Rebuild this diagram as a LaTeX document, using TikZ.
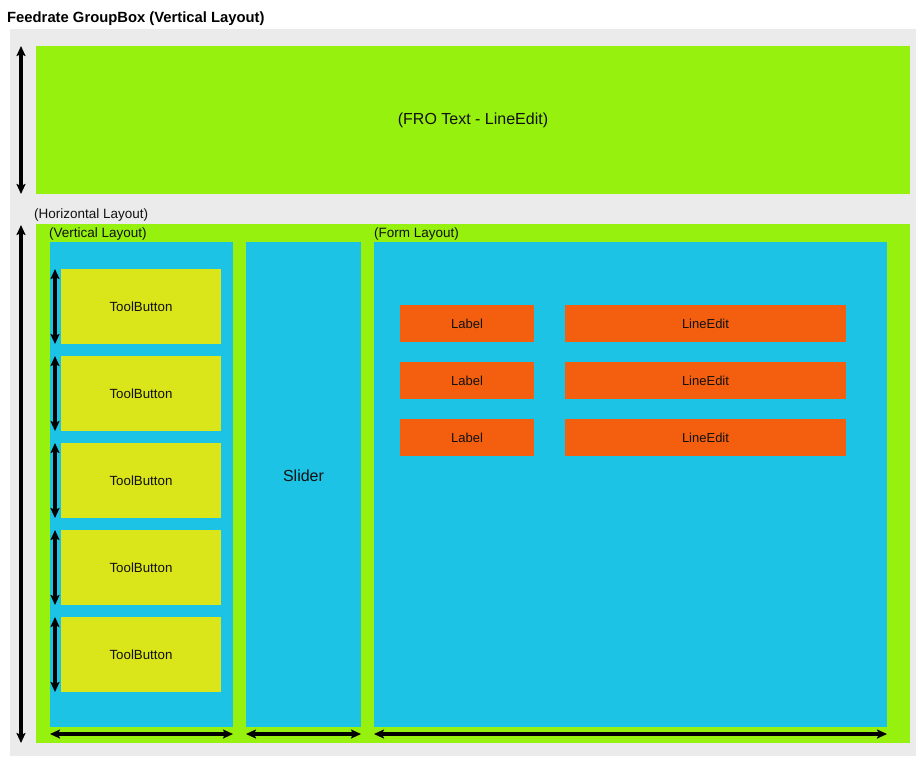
\documentclass[tikz,border=0pt]{standalone}
\usepackage{fontspec}
\setmainfont{Liberation Sans}
\usetikzlibrary{arrows.meta}
\definecolor{bggray}{HTML}{EBEBEB}
\definecolor{lgreen}{HTML}{96F10F}
\definecolor{lblue}{HTML}{1CC3E5}
\definecolor{lyellow}{HTML}{DBE61A}
\definecolor{lorange}{HTML}{F35F0F}
\definecolor{txt}{HTML}{111111}
\tikzset{
  box/.style={anchor=north west, inner sep=0pt, outer sep=0pt, draw=none, text=txt},
  greenbox/.style={box, fill=lgreen},
  bluebox/.style={box, fill=lblue},
  toolbox/.style={box, fill=lyellow, minimum width=160pt, minimum height=75pt, font=\fontsize{13.3}{15}\selectfont},
  orangebox/.style={box, fill=lorange, minimum height=37pt, font=\fontsize{13}{15}\selectfont},
  caption/.style={anchor=west, inner sep=0pt, text=txt, font=\fontsize{13.5}{15}\selectfont},
  dimarrow/.style={{Stealth[length=10pt,width=9pt,inset=2pt]}-{Stealth[length=10pt,width=9pt,inset=2pt]}, line width=3.2pt, black}
}
\begin{document}
\begin{tikzpicture}[x=1pt,y=-1pt]
\useasboundingbox (0,0) rectangle (916,756);
\fill[white] (0,0) rectangle (916,756);
\node[box, fill=bggray, minimum width=906pt, minimum height=727pt] (bg) at (10,29) {};
\node[anchor=west, inner sep=0pt, text=black, font=\bfseries\fontsize{14.8}{17}\selectfont] (title) at (7,19) {Feedrate GroupBox (Vertical Layout)};
% top line edit
\node[greenbox, minimum width=874pt, minimum height=148pt, font=\fontsize{16}{19}\selectfont] (fro) at (36,46) {(FRO Text - LineEdit)};
\coordinate (a1t) at (21,46);
\coordinate (a1b) at (21,194);
\draw[dimarrow] (a1t) -- (a1b);
% horizontal layout
\node[caption] (hcap) at (34,215) {(Horizontal Layout)};
\node[greenbox, minimum width=874pt, minimum height=519pt] (hl) at (36,224) {};
\coordinate (a2t) at (21,225);
\coordinate (a2b) at (21,743);
\draw[dimarrow] (a2t) -- (a2b);
% vertical layout
\node[caption] (vcap) at (49,234) {(Vertical Layout)};
\node[bluebox, minimum width=183pt, minimum height=485pt] (vl) at (50,242) {};
\node[bluebox, minimum width=115pt, minimum height=485pt] (slider) at (246,242) {};
\node[inner sep=0pt, text=txt, font=\fontsize{16}{19}\selectfont] (slidertext) at (303.5,476) {Slider};
\node[caption] (fcap) at (374,234) {(Form Layout)};
\node[bluebox, minimum width=513pt, minimum height=485pt] (fl) at (374,242) {};
% bottom arrows
\coordinate (b1l) at (50,734);
\coordinate (b1r) at (233,734);
\coordinate (b2l) at (246,734);
\coordinate (b2r) at (361,734);
\coordinate (b3l) at (374,734);
\coordinate (b3r) at (887,734);
\draw[dimarrow] (b1l) -- (b1r);
\draw[dimarrow] (b2l) -- (b2r);
\draw[dimarrow] (b3l) -- (b3r);
% tool buttons
\foreach \i/\y in {1/269,2/356,3/443,4/530,5/617}{
  \node[toolbox] (tb\i) at (61,\y) {ToolButton};
  \coordinate (tt\i) at (55,\y);
  \coordinate (tbb\i) at (55,\y+75);
  \draw[dimarrow] (tt\i) -- (tbb\i);
}
% form rows
\foreach \i/\y in {1/305,2/362,3/419}{
  \node[orangebox, minimum width=134pt] (lab\i) at (400,\y) {Label};
  \node[orangebox, minimum width=281pt] (le\i) at (565,\y) {LineEdit};
}
\end{tikzpicture}
\end{document}
